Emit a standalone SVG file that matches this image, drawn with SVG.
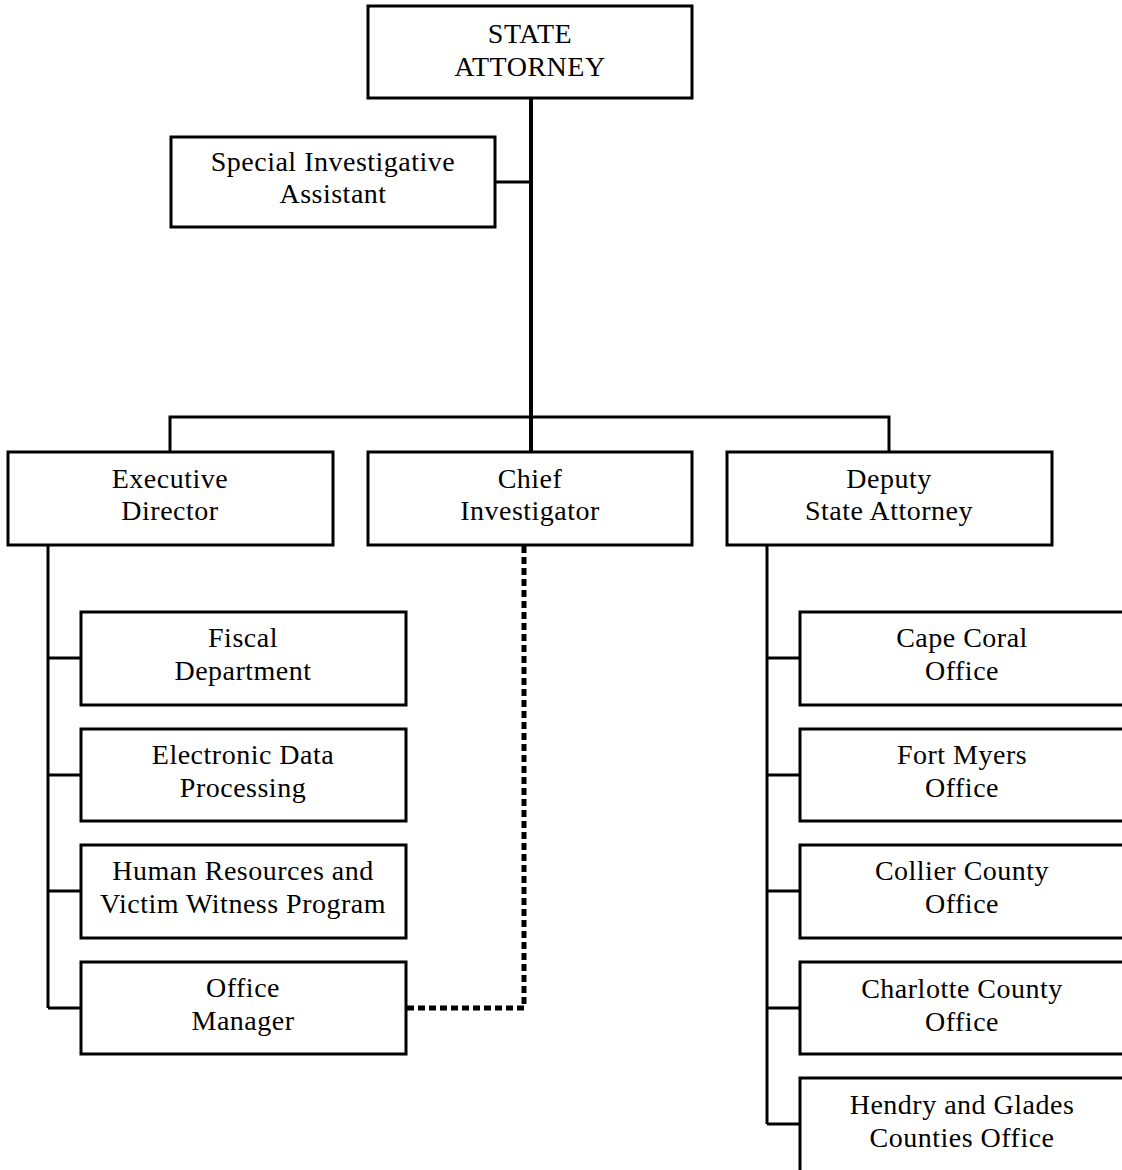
<svg xmlns="http://www.w3.org/2000/svg" width="1122" height="1170" viewBox="0 0 1122 1170">
<style>
.box{fill:#fff;stroke:#000;stroke-width:3}
.t{font-family:"Liberation Serif","Times New Roman",serif;font-size:28px;letter-spacing:0.5px;text-anchor:middle;fill:#000}
.ln{stroke:#000;stroke-width:3;fill:none}
.main{stroke:#000;stroke-width:4;fill:none}
.dot{stroke:#000;stroke-width:5;fill:none;stroke-dasharray:7 4}
</style>
<rect width="1122" height="1170" fill="#fff"/>
<g id="connectors">
<line class="main" x1="531" y1="98" x2="531" y2="452"/>
<line class="ln" x1="495" y1="182" x2="531" y2="182"/>
<polyline class="ln" points="170,452 170,417 889,417 889,452"/>
<line class="ln" x1="48" y1="545" x2="48" y2="1008"/>
<line class="ln" x1="48" y1="658" x2="81" y2="658"/>
<line class="ln" x1="48" y1="775" x2="81" y2="775"/>
<line class="ln" x1="48" y1="891" x2="81" y2="891"/>
<line class="ln" x1="48" y1="1008" x2="81" y2="1008"/>
<line class="ln" x1="767" y1="545" x2="767" y2="1124"/>
<line class="ln" x1="767" y1="658" x2="800" y2="658"/>
<line class="ln" x1="767" y1="775" x2="800" y2="775"/>
<line class="ln" x1="767" y1="891" x2="800" y2="891"/>
<line class="ln" x1="767" y1="1008" x2="800" y2="1008"/>
<line class="ln" x1="767" y1="1124" x2="800" y2="1124"/>
<polyline class="dot" points="524,546 524,1008 407,1008"/>
</g>
<g id="state-attorney">
<rect class="box" x="368" y="6" width="324" height="92"/>
<text class="t" x="530" y="43">STATE</text>
<text class="t" x="530" y="76">ATTORNEY</text>
</g>
<g id="special-investigative-assistant">
<rect class="box" x="171" y="137" width="324" height="90"/>
<text class="t" x="333" y="171">Special Investigative</text>
<text class="t" x="333" y="203">Assistant</text>
</g>
<g id="executive-director">
<rect class="box" x="8" y="452" width="325" height="93"/>
<text class="t" x="170" y="488">Executive</text>
<text class="t" x="170" y="520">Director</text>
</g>
<g id="chief-investigator">
<rect class="box" x="368" y="452" width="324" height="93"/>
<text class="t" x="530" y="488">Chief</text>
<text class="t" x="530" y="520">Investigator</text>
</g>
<g id="deputy-state-attorney">
<rect class="box" x="727" y="452" width="325" height="93"/>
<text class="t" x="889" y="488">Deputy</text>
<text class="t" x="889" y="520">State Attorney</text>
</g>
<g id="fiscal-department">
<rect class="box" x="81" y="612" width="325" height="93"/>
<text class="t" x="243" y="647">Fiscal</text>
<text class="t" x="243" y="680">Department</text>
</g>
<g id="electronic-data-processing">
<rect class="box" x="81" y="729" width="325" height="92"/>
<text class="t" x="243" y="764">Electronic Data</text>
<text class="t" x="243" y="797">Processing</text>
</g>
<g id="human-resources">
<rect class="box" x="81" y="845" width="325" height="93"/>
<text class="t" x="243" y="880">Human Resources and</text>
<text class="t" x="243" y="913">Victim Witness Program</text>
</g>
<g id="office-manager">
<rect class="box" x="81" y="962" width="325" height="92"/>
<text class="t" x="243" y="997">Office</text>
<text class="t" x="243" y="1030">Manager</text>
</g>
<g id="cape-coral-office">
<rect class="box" x="800" y="612" width="324" height="93"/>
<text class="t" x="962" y="647">Cape Coral</text>
<text class="t" x="962" y="680">Office</text>
</g>
<g id="fort-myers-office">
<rect class="box" x="800" y="729" width="324" height="92"/>
<text class="t" x="962" y="764">Fort Myers</text>
<text class="t" x="962" y="797">Office</text>
</g>
<g id="collier-county-office">
<rect class="box" x="800" y="845" width="324" height="93"/>
<text class="t" x="962" y="880">Collier County</text>
<text class="t" x="962" y="913">Office</text>
</g>
<g id="charlotte-county-office">
<rect class="box" x="800" y="962" width="324" height="92"/>
<text class="t" x="962" y="998">Charlotte County</text>
<text class="t" x="962" y="1031">Office</text>
</g>
<g id="hendry-glades-office">
<rect class="box" x="800" y="1078" width="324" height="95"/>
<text class="t" x="962" y="1114">Hendry and Glades</text>
<text class="t" x="962" y="1147">Counties Office</text>
</g>
</svg>
